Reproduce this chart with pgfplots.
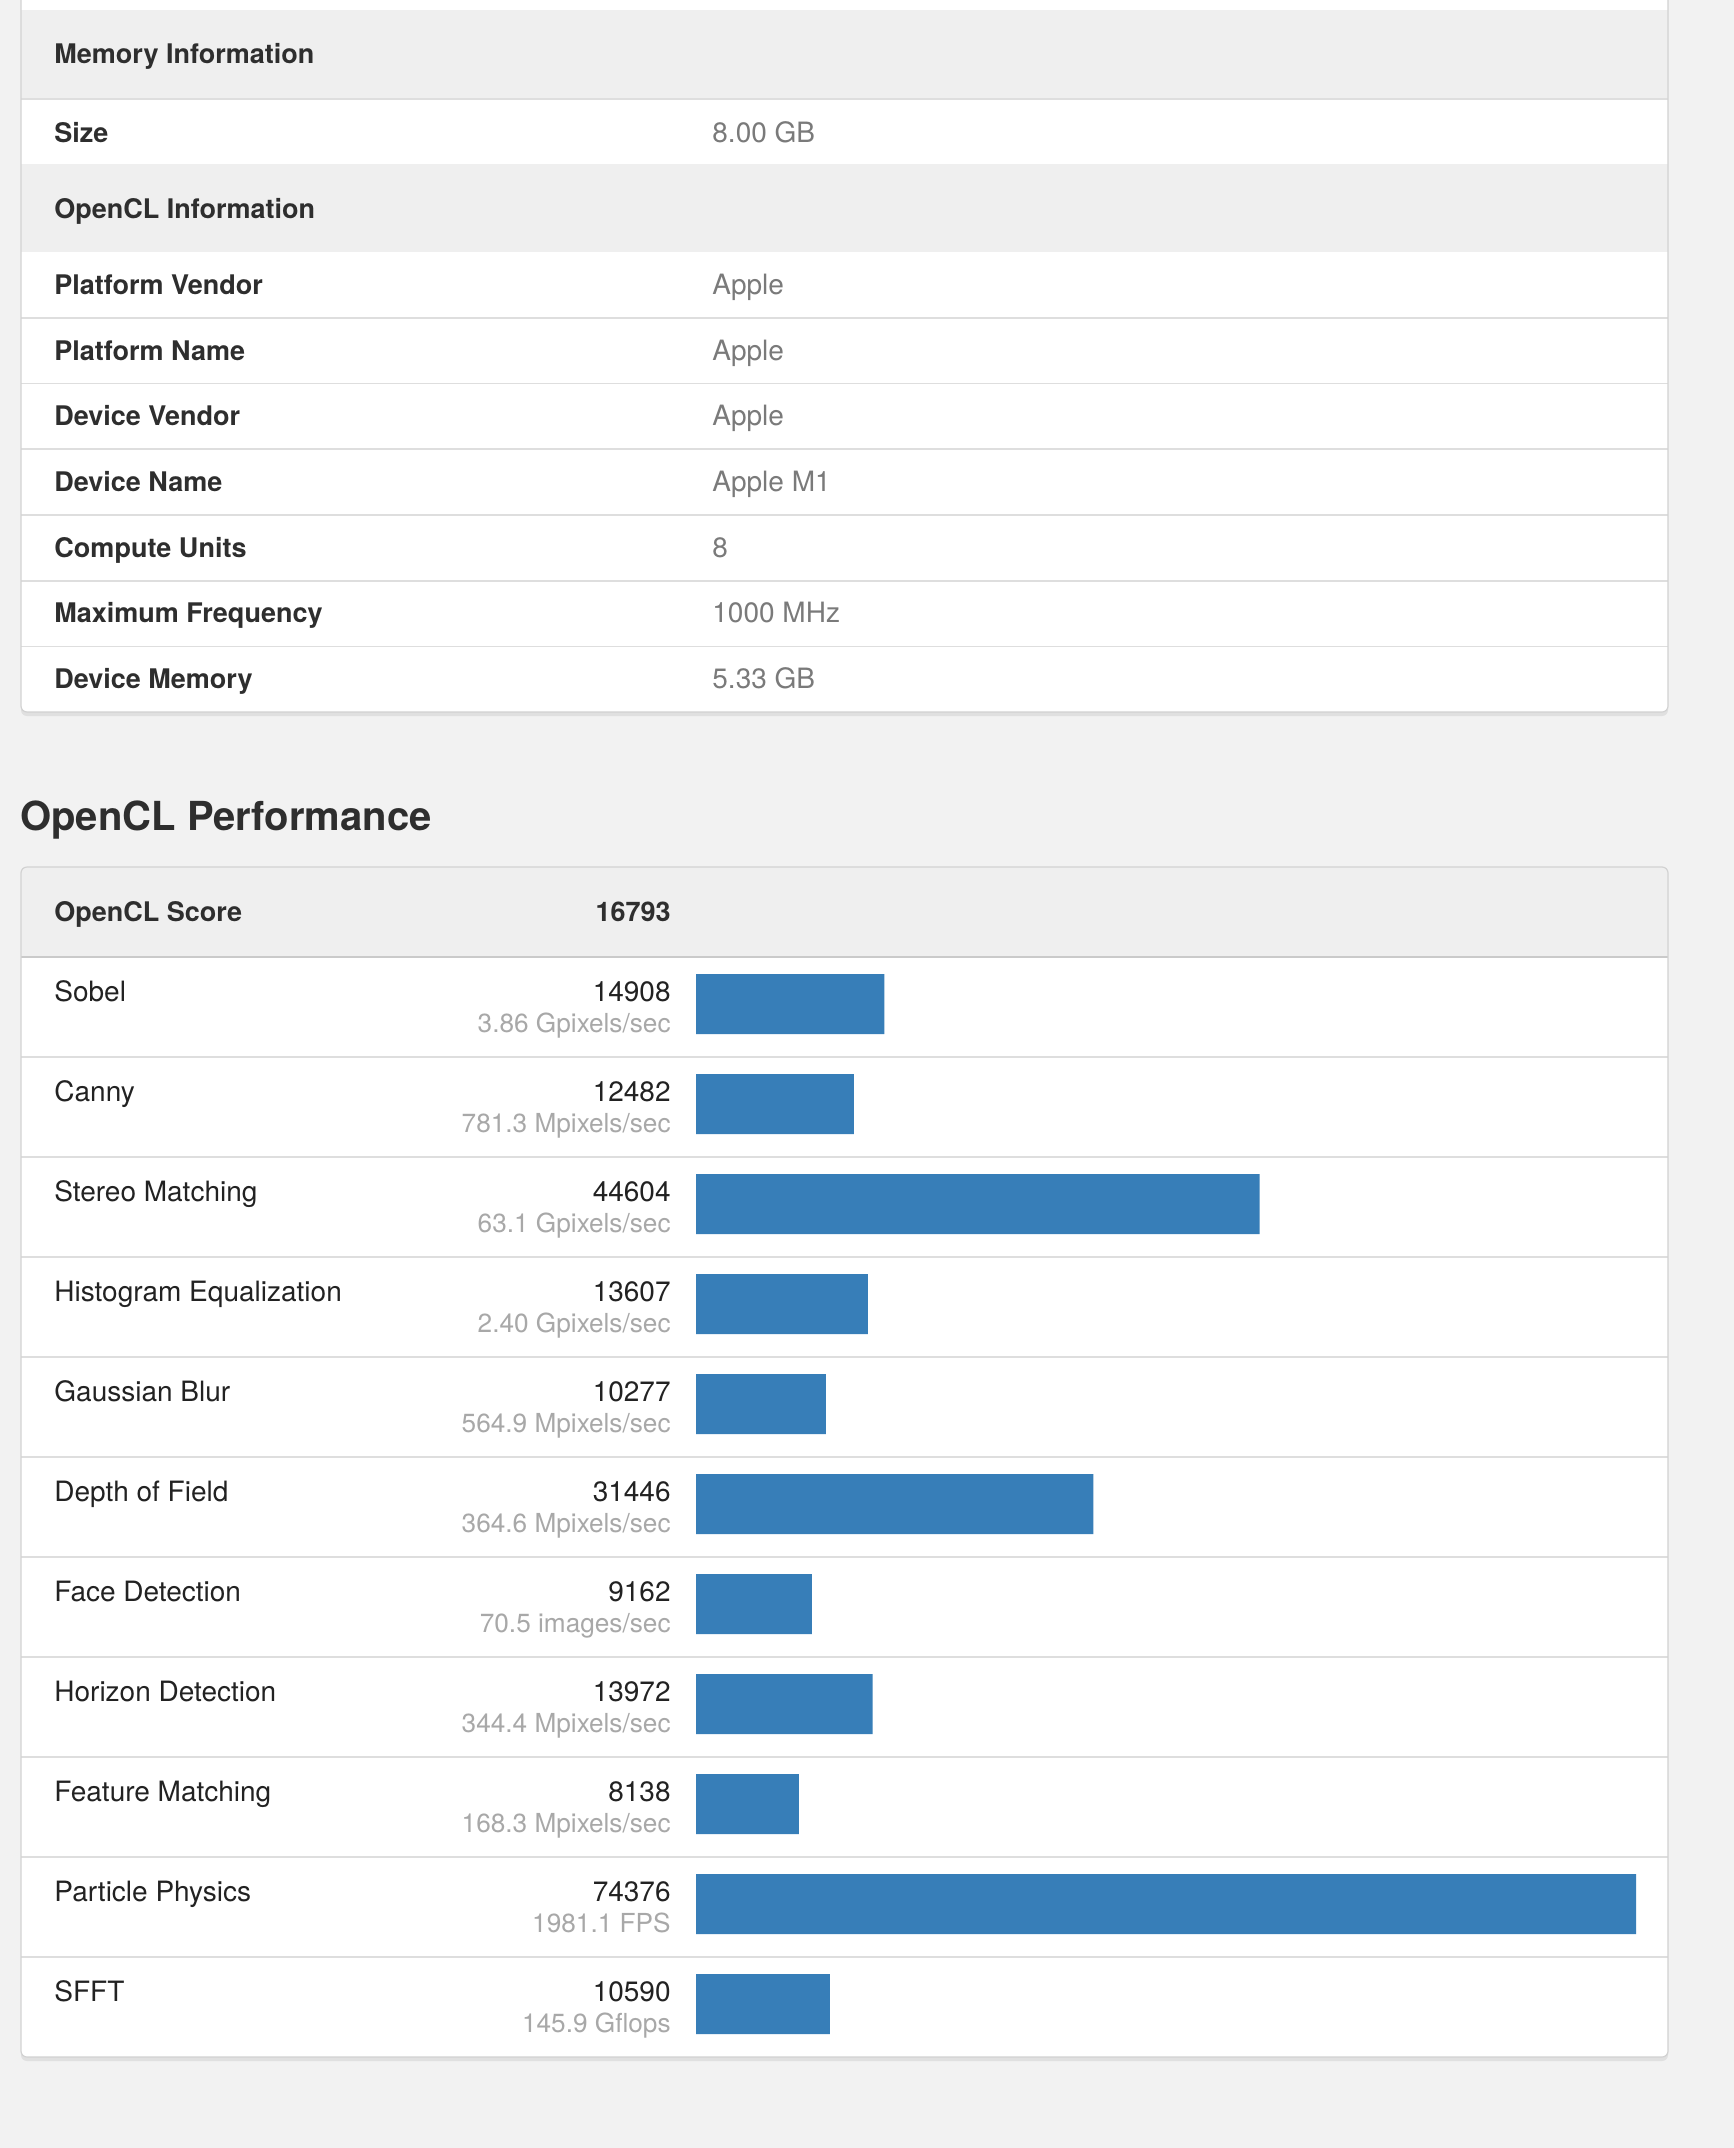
\documentclass[border=0pt]{standalone}
\usepackage{pgfplots}
\pgfplotsset{compat=1.18}
\usepackage{fontspec}
\setmainfont{TeX Gyre Heros}

\definecolor{page}{HTML}{F2F2F2}
\definecolor{headbg}{HTML}{EFEFEF}
\definecolor{sepline}{HTML}{DEDEDE}
\definecolor{headline}{HTML}{CACACA}
\definecolor{cardline}{HTML}{D2D2D2}
\definecolor{barblue}{HTML}{377EB8}
\definecolor{labc}{HTML}{222222}
\definecolor{headc}{HTML}{2E2E2E}
\definecolor{valc}{HTML}{7A7A7A}
\definecolor{subc}{HTML}{A8A8A8}

\newcommand{\lfont}{\fontsize{14}{16}\selectfont}
\newcommand{\hfont}{\fontsize{13.5}{16}\selectfont\bfseries}
\newcommand{\sfont}{\fontsize{13.1}{15}\selectfont}

% info row: baseline y, label, value
\newcommand{\inforow}[3]{%
  \node[anchor=base west, inner sep=0pt, font=\hfont, text=headc] at (54,#1) {#2};
  \node[anchor=base west, inner sep=0pt, font=\lfont, text=valc] at (712,#1) {#3};}
% perf row: index, label, score, rate
\newcommand{\prow}[4]{%
  \node[anchor=base west, inner sep=0pt, font=\lfont, text=labc] at (54,{1001+100*#1}) {#2};
  \node[anchor=base east, inner sep=0pt, font=\lfont, text=labc] at (671,{1001+100*#1}) {#3};
  \node[anchor=base east, inner sep=0pt, font=\sfont, text=subc] at (671,{1032+100*#1}) {#4};}

\begin{document}
\begin{tikzpicture}
\begin{scope}[x=0.5pt,y=-0.5pt]
  \fill[page] (0,0) rectangle (1734,2148);
  \useasboundingbox (0,0) rectangle (1734,2148);

  % ---- upper card (system information) ----
  \fill[black!12, rounded corners=3pt] (21,-20) rectangle (1668,716);
  \begin{scope}
    \clip[rounded corners=3pt] (21,-20) rectangle (1668,712);
    \fill[white] (21,-20) rectangle (1668,712);
    \fill[headbg] (21,10) rectangle (1668,98);
    \fill[headbg] (21,164) rectangle (1668,252);
    \draw[sepline, line width=1pt] (21,99) -- (1668,99);
    \foreach \y in {318,383.5,449,515,581,646.5}
      \draw[sepline, line width=0.8pt] (21,\y) -- (1668,\y);
  \end{scope}
  \draw[cardline, line width=0.6pt, rounded corners=3pt] (21,-20) rectangle (1668,712);

  \node[anchor=base west, inner sep=0pt, font=\hfont, text=headc] at (54,63) {Memory Information};
  \inforow{142}{Size}{8.00 GB}
  \node[anchor=base west, inner sep=0pt, font=\hfont, text=headc] at (54,218) {OpenCL Information};
  \inforow{294}{Platform Vendor}{Apple}
  \inforow{360}{Platform Name}{Apple}
  \inforow{425}{Device Vendor}{Apple}
  \inforow{491}{Device Name}{Apple M1}
  \inforow{557}{Compute Units}{8}
  \inforow{622}{Maximum Frequency}{1000 MHz}
  \inforow{688}{Device Memory}{5.33 GB}

  % ---- title ----
  \node[anchor=base west, inner sep=0pt, font=\fontsize{20}{24}\selectfont\bfseries, text=headc] at (20,830) {OpenCL Performance};

  % ---- lower card (OpenCL performance) ----
  \fill[black!12, rounded corners=3pt] (21,867) rectangle (1668,2061);
  \begin{scope}
    \clip[rounded corners=3pt] (21,867) rectangle (1668,2057);
    \fill[white] (21,867) rectangle (1668,2057);
    \fill[headbg] (21,867) rectangle (1668,956);
    \draw[headline, line width=1pt] (21,957) -- (1668,957);
    \foreach \k in {1,...,10}
      \draw[sepline, line width=0.8pt] (21,{957+100*\k}) -- (1668,{957+100*\k});
  \end{scope}
  \draw[cardline, line width=0.6pt, rounded corners=3pt] (21,867) rectangle (1668,2057);

  \node[anchor=base west, inner sep=0pt, font=\hfont, text=headc] at (54,921) {OpenCL Score};
  \node[anchor=base east, inner sep=0pt, font=\hfont, text=headc] at (671,921) {16793};

  \prow{0}{Sobel}{14908}{3.86 Gpixels/sec}
  \prow{1}{Canny}{12482}{781.3 Mpixels/sec}
  \prow{2}{Stereo Matching}{44604}{63.1 Gpixels/sec}
  \prow{3}{Histogram Equalization}{13607}{2.40 Gpixels/sec}
  \prow{4}{Gaussian Blur}{10277}{564.9 Mpixels/sec}
  \prow{5}{Depth of Field}{31446}{364.6 Mpixels/sec}
  \prow{6}{Face Detection}{9162}{70.5 images/sec}
  \prow{7}{Horizon Detection}{13972}{344.4 Mpixels/sec}
  \prow{8}{Feature Matching}{8138}{168.3 Mpixels/sec}
  \prow{9}{Particle Physics}{74376}{1981.1 FPS}
  \prow{10}{SFFT}{10590}{145.9 Gflops}

  \coordinate (A) at (696,957);
\end{scope}

\begin{axis}[
  at={(A)}, anchor=north west,
  scale only axis,
  width=470pt, height=550pt,
  xbar, bar width=30pt, bar shift=0pt,
  xmin=0, xmax=74376,
  ymin=-0.47, ymax=10.53,
  y dir=reverse,
  hide axis,
  clip=false,
]
\addplot[fill=barblue, draw=none] coordinates {
  (14908,0) (12482,1) (44604,2) (13607,3) (10277,4) (31446,5)
  (9162,6) (13972,7) (8138,8) (74376,9) (10590,10)
};
\end{axis}
\end{tikzpicture}
\end{document}
